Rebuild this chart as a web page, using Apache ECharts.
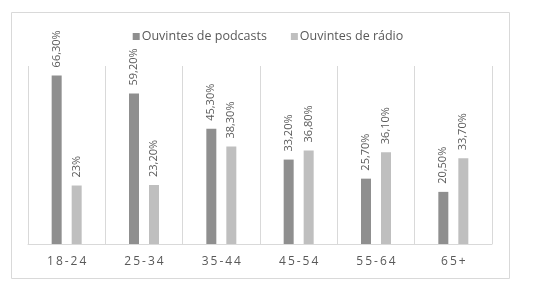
<!DOCTYPE html>
<html>
<head>
<meta charset="utf-8">
<script src="https://cdn.jsdelivr.net/npm/echarts@6/dist/echarts.min.js"></script>
<style>html,body{margin:0;padding:0;background:#fff}#c{width:536px;height:290px}</style>
</head>
<body>
<div id="c"></div>
<script>
var categories = ['18-24', '25-34', '35-44', '45-54', '55-64', '65+'];
var podcastValues = [66.3, 59.2, 45.3, 33.2, 25.7, 20.5];
var radioValues = [23, 23.2, 38.3, 36.8, 36.1, 33.7];
var podcastLabels = ['66,30%', '59,20%', '45,30%', '33,20%', '25,70%', '20,50%'];
var radioLabels = ['23%', '23,20%', '38,30%', '36,80%', '36,10%', '33,70%'];
var seriesNames = ['Ouvintes de podcasts', 'Ouvintes de rádio'];

var font = '"Open Sans", "Liberation Sans", sans-serif';
function lbl(arr) {
  return {
    show: true, position: 'top', rotate: 90, align: 'left', verticalAlign: 'middle',
    distance: 8, color: '#595959', fontSize: 11, fontFamily: font,
    formatter: function (p) { return arr[p.dataIndex]; }
  };
}
var chart = echarts.init(document.getElementById('c'), null, {renderer: 'canvas'});
chart.setOption({
  animation: false,
  graphic: [{type: 'rect', shape: {x: 11.5, y: 12.5, width: 498, height: 266}, style: {fill: 'none', stroke: '#d9d9d9', lineWidth: 1}}],
  legend: {
    data: seriesNames, top: 25, left: 'center', itemWidth: 7, itemHeight: 7, itemGap: 24,
    icon: 'rect', textStyle: {color: '#595959', fontSize: 12.5, fontFamily: font, padding: [0, 0, 0, -3]}
  },
  grid: {left: 28, right: 44, top: 66, bottom: 46},
  xAxis: {
    type: 'category', data: categories,
    axisLine: {lineStyle: {color: '#d9d9d9'}},
    axisTick: {show: false},
    splitLine: {show: true, lineStyle: {color: '#d9d9d9'}},
    axisLabel: {
      color: '#595959', fontSize: 12, fontFamily: font, margin: 12,
      formatter: function (v) { return v.split('').join('\u2009'); }
    }
  },
  yAxis: {type: 'value', min: 0, max: 70, show: false, splitLine: {show: false}},
  series: [
    {name: seriesNames[0], type: 'bar', data: podcastValues, barWidth: 10, barGap: '100%', itemStyle: {color: '#8f8f8f'}, label: lbl(podcastLabels)},
    {name: seriesNames[1], type: 'bar', data: radioValues, barWidth: 10, itemStyle: {color: '#bfbfbf'}, label: lbl(radioLabels)}
  ]
});
</script>
</body>
</html>
